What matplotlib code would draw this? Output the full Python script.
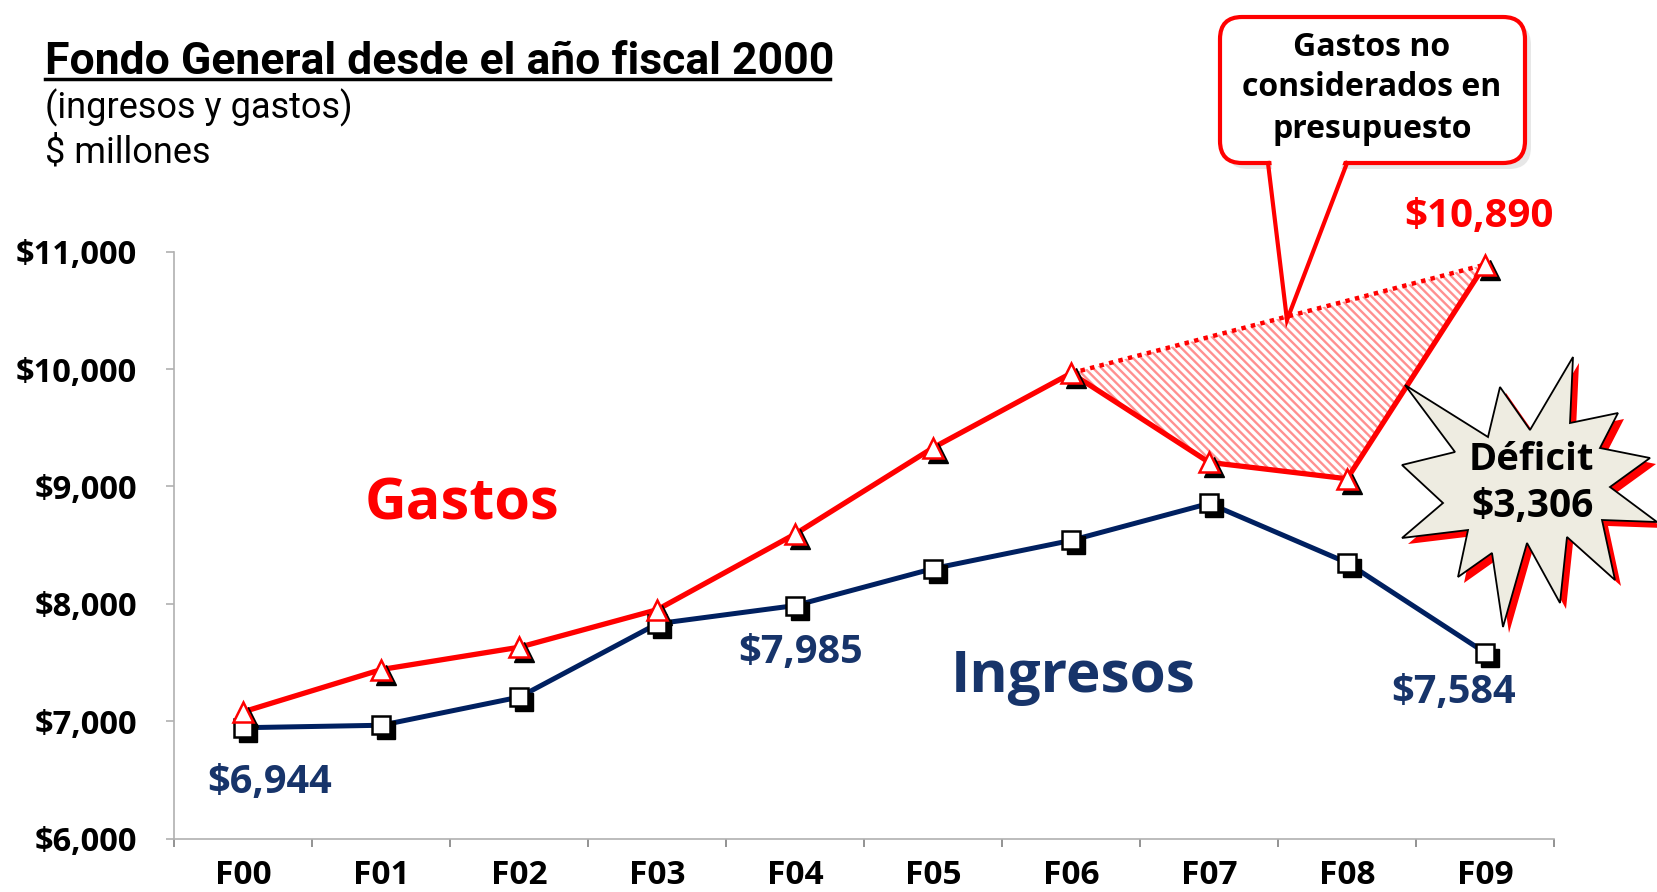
import numpy as np
import matplotlib.pyplot as plt
import matplotlib.transforms as mtransforms
from matplotlib.patches import Polygon, FancyBboxPatch
from matplotlib.lines import Line2D
from matplotlib.ticker import FuncFormatter, FixedLocator

# data
years = ['F00', 'F01', 'F02', 'F03', 'F04', 'F05', 'F06', 'F07', 'F08', 'F09']
gastos = [7080, 7440, 7630, 7950, 8595, 9330, 9965, 9205, 9065, 10890]
ingresos = [6944, 6965, 7205, 7830, 7985, 8300, 8540, 8855, 8350, 7584]
budget_years = [6, 9]            # dotted "budget" line F06 -> F09
labeled_ingresos = [0, 4, 9]     # points with a value label
deficit = gastos[-1] - ingresos[-1]

RED = '#ff0000'
NAVY = '#002060'
NAVY_TXT = '#17346a'
W, H = 1658, 892

plt.rcParams['font.family'] = ['Open Sans', 'DejaVu Sans']
plt.rcParams['hatch.linewidth'] = 1.7

fig = plt.figure(figsize=(W / 100, H / 100), dpi=100)
ax = fig.add_axes([174.5 / W, 1 - 838.5 / H, (1554 - 174.5) / W, (838.5 - 251.7) / H])
# pixel transform, origin top-left of the figure
pix = mtransforms.Affine2D().scale(1 / W, -1 / H).translate(0, 1) + fig.transFigure

x = np.arange(len(years))

# hatched area of unbudgeted spending
poly = [(i, gastos[i]) for i in range(budget_years[0], budget_years[1] + 1)]
ax.add_patch(Polygon(poly, closed=True, facecolor='white', edgecolor='#ff9090',
                     hatch='\\\\\\\\', linewidth=0, zorder=1, clip_on=False))
ax.plot(budget_years, [gastos[i] for i in budget_years], color=RED, lw=3.2,
        linestyle=(0, (1, 1.2)), zorder=2, clip_on=False)

ax.plot(x, ingresos, color=NAVY, lw=3.6, zorder=3)
ax.plot(x, gastos, color=RED, lw=3.8, zorder=3, clip_on=False)

shadow = mtransforms.offset_copy(ax.transData, fig=fig, x=5, y=-5, units='dots')
ax.plot(x, ingresos, 's', ms=13.5, color='black', transform=shadow, zorder=4)
ax.plot(x, gastos, '^', ms=14, color='black', transform=shadow, zorder=4, clip_on=False)
ax.plot(x, ingresos, 's', ms=13.5, mfc='white', mec='black', mew=1.8, zorder=5)
ax.plot(x, gastos, '^', ms=14, mfc='white', mec=RED, mew=1.8, zorder=5, clip_on=False)

ax.set_xlim(-0.5, len(years) - 0.5)
ax.set_ylim(6000, 11000)
ax.set_yticks(np.arange(6000, 11001, 1000))
ax.yaxis.set_major_formatter(FuncFormatter(lambda v, p: '${:,.0f}'.format(v)))
ax.set_xticks(x)
ax.set_xticklabels(years)
ax.xaxis.set_minor_locator(FixedLocator(np.arange(-0.5, len(years), 1)))
for s in ['top', 'right']:
    ax.spines[s].set_visible(False)
for s in ['left', 'bottom']:
    ax.spines[s].set_color('#b0b0b0')
    ax.spines[s].set_linewidth(1.2)
ax.tick_params(axis='y', length=6, width=1.2, color='#b0b0b0', pad=21, labelsize=23.5)
ax.tick_params(axis='x', which='major', length=0, pad=15, labelsize=24)
ax.tick_params(axis='x', which='minor', length=6, width=1.2, color='#808080')
for lab in ax.get_xticklabels() + ax.get_yticklabels():
    lab.set_fontweight('bold')

# title block
tfam = ['Roboto', 'DejaVu Sans']
fig.text(45, 74, 'Fondo General desde el año fiscal 2000', transform=pix, fontsize=32,
         fontweight='bold', family=tfam, va='baseline')
fig.add_artist(Line2D([45, 830], [79, 79], transform=pix, color='black', lw=2.5))
fig.text(45, 118, '(ingresos y gastos)', transform=pix, fontsize=26, family=tfam, va='baseline')
fig.text(45, 163, '$ millones', transform=pix, fontsize=26, family=tfam, va='baseline')

# series and value labels
fig.text(462, 505, 'Gastos', transform=pix, fontsize=41.5, fontweight='bold', color=RED,
         ha='center', va='center')
fig.text(1073, 677, 'Ingresos', transform=pix, fontsize=42, fontweight='bold', color=NAVY_TXT,
         ha='center', va='center')
lab_pos = {0: (270, 783), 4: (801, 652), 9: (1454, 693)}
for i in labeled_ingresos:
    fig.text(*lab_pos[i], '${:,}'.format(ingresos[i]), transform=pix, fontsize=28.5,
             fontweight='bold', color=NAVY_TXT, ha='center', va='center')
fig.text(1479, 217, '${:,}'.format(gastos[-1]), transform=pix, fontsize=29,
         fontweight='bold', color=RED, ha='center', va='center')

# callout
fig.add_artist(FancyBboxPatch((1226, 23), 305, 146, boxstyle='round,pad=0,rounding_size=22',
                              transform=pix, facecolor='#d8d8d8', edgecolor='none', alpha=0.6))
fig.add_artist(FancyBboxPatch((1220, 17), 305, 146, boxstyle='round,pad=0,rounding_size=22',
                              transform=pix, facecolor='white', edgecolor=RED, lw=3))
fig.add_artist(Polygon([(1271, 158), (1345, 158), (1287, 316)], closed=True, transform=pix,
                       facecolor='white', edgecolor='none'))
fig.add_artist(Line2D([1268, 1287, 1347], [163, 320, 163], transform=pix, color=RED, lw=3,
                      solid_joinstyle='miter'))
fig.text(1372, 88, 'Gastos no\nconsiderados en\npresupuesto', transform=pix, fontsize=23,
         fontweight='bold', ha='center', va='center', linespacing=1.32)

# starburst
star = [(1573, 357), (1570, 423), (1618, 413), (1600, 448), (1650, 458), (1610, 487),
        (1657, 522), (1602, 520), (1615, 580), (1567, 537), (1560, 603), (1527, 543),
        (1503, 627), (1492, 553), (1458, 577), (1468, 530), (1402, 538), (1443, 503),
        (1402, 465), (1455, 452), (1405, 385), (1488, 437), (1500, 387), (1530, 430)]
fig.add_artist(Polygon([(a + 6, b + 6) for a, b in star], closed=True, transform=pix,
                       facecolor=RED, edgecolor='none'))
fig.add_artist(Polygon(star, closed=True, transform=pix, facecolor='#eeece1',
                       edgecolor='black', lw=1.3))
fig.text(1531, 460, 'Déficit', transform=pix, fontsize=27.5, fontweight='bold',
         ha='center', va='center')
fig.text(1533, 507, '${:,}'.format(deficit), transform=pix, fontsize=28, fontweight='bold',
         ha='center', va='center')

fig.savefig('out.png', dpi=100)
